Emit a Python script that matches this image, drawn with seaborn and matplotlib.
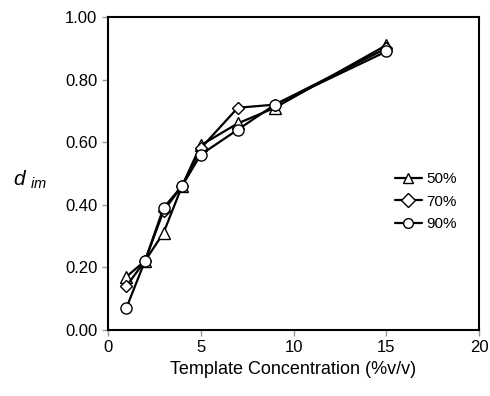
import numpy as np
import pandas as pd
import matplotlib
matplotlib.use('Agg')
import matplotlib.pyplot as plt
import seaborn as sns

# template concentration (% v/v)
conc = [1, 2, 3, 4, 5, 7, 9, 15]
d_50 = [0.17, 0.22, 0.31, 0.46, 0.59, 0.66, 0.71, 0.91]
d_70 = [0.14, 0.22, 0.38, 0.46, 0.58, 0.71, 0.72, 0.90]
d_90 = [0.07, 0.22, 0.39, 0.46, 0.56, 0.64, 0.72, 0.89]
series = ['50%', '70%', '90%']

df = pd.DataFrame({
    'conc': conc * 3,
    'dim': d_50 + d_70 + d_90,
    'series': np.repeat(series, len(conc)),
})

sns.set_style('ticks')
plt.rcParams['font.family'] = ['Liberation Sans', 'DejaVu Sans']
plt.rcParams['mathtext.fontset'] = 'custom'
plt.rcParams['mathtext.it'] = 'Liberation Sans:italic'
plt.rcParams['mathtext.rm'] = 'Liberation Sans'
plt.rcParams['text.color'] = 'black'
plt.rcParams['axes.labelcolor'] = 'black'
plt.rcParams['xtick.color'] = 'black'
plt.rcParams['ytick.color'] = 'black'

fig = plt.figure(figsize=(4.9, 3.96), dpi=100)
ax = fig.add_axes([0.220, 0.167, 0.758, 0.790])

sns.lineplot(data=df, x='conc', y='dim', hue='series', style='series',
             palette=['black'] * 3, markers=['^', 'D', 'o'], dashes=False,
             markersize=8, markerfacecolor='white', markeredgecolor='black',
             markeredgewidth=1, linewidth=1.6, ax=ax)
for line in ax.lines:
    line.set_markerfacecolor('white')
ax.lines[1].set_markersize(6.5)

ax.set_xlim(0, 20)
ax.set_ylim(0, 1.0)
ax.set_xticks([0, 5, 10, 15, 20])
ax.set_yticks(np.arange(0, 1.01, 0.2))
ax.set_yticklabels([f'{v:.2f}' for v in np.arange(0, 1.01, 0.2)])
ax.tick_params(labelsize=12, length=4, width=1, color='#999999',
               labelcolor='black')
for s in ax.spines.values():
    s.set_visible(True)
    s.set_linewidth(1.5)
    s.set_color('black')

ax.set_xlabel('Template Concentration (%v/v)', fontsize=13, color='black')
ax.set_ylabel(r'$d$ $_{im}$', fontsize=15, rotation=0, color='black')
ax.yaxis.set_label_coords(-0.21, 0.445)

leg = ax.legend(loc='center left', bbox_to_anchor=(0.772, 0.41),
                frameon=False, fontsize=11, handlelength=1.8,
                handletextpad=0.25, labelspacing=0.55,
                borderpad=0, borderaxespad=0)
for h in leg.legend_handles:
    h.set_markerfacecolor('white')
    h.set_markeredgecolor('black')
    h.set_color('black')
    h.set_markersize(7)
for t in leg.get_texts():
    t.set_color('black')

fig.savefig('out.png', dpi=100)
